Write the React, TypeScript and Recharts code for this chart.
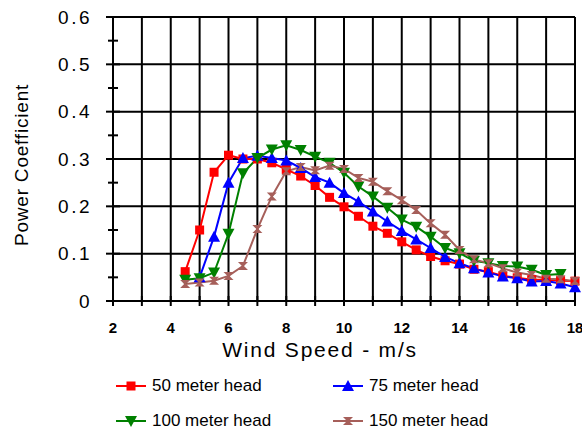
import React from "react";
import { LineChart, Line, XAxis, YAxis, CartesianGrid, Label } from "recharts";

// wind speed (m/s)
const windSpeed = [
  4.5, 5, 5.5, 6, 6.5, 7, 7.5, 8, 8.5, 9, 9.5, 10, 10.5, 11, 11.5, 12, 12.5,
  13, 13.5, 14, 14.5, 15, 15.5, 16, 16.5, 17, 17.5, 18,
];

const head50 = [
  0.062, 0.15, 0.272, 0.308, 0.3, 0.3, 0.292, 0.278, 0.264, 0.244, 0.219,
  0.199, 0.179, 0.158, 0.143, 0.125, 0.108, 0.094, 0.085, 0.078, 0.067, 0.062,
  0.053, 0.049, 0.045, 0.045, 0.043, 0.042,
];
const head75 = [
  null, 0.05, 0.136, 0.25, 0.302, 0.307, 0.302, 0.297, 0.281, 0.262, 0.25,
  0.228, 0.21, 0.189, 0.168, 0.148, 0.13, 0.112, 0.093, 0.08, 0.069, 0.06,
  0.052, 0.048, 0.041, 0.042, 0.037, 0.029,
];
const head100 = [
  0.045, 0.048, 0.06, 0.142, 0.27, 0.302, 0.32, 0.329, 0.319, 0.305, 0.292,
  0.271, 0.242, 0.221, 0.197, 0.172, 0.157, 0.136, 0.112, 0.101, 0.085, 0.08,
  0.074, 0.073, 0.066, 0.055, 0.057, null,
];
const head150 = [
  0.036, 0.039, 0.043, 0.053, 0.074, 0.152, 0.221, 0.274, 0.283, 0.276, 0.286,
  0.279, 0.26, 0.252, 0.232, 0.213, 0.192, 0.164, 0.14, 0.108, 0.088, 0.08,
  0.069, 0.06, 0.055, 0.047, 0.046, 0.042,
];

const xTicks = [2, 3, 4, 5, 6, 7, 8, 9, 10, 11, 12, 13, 14, 15, 16, 17, 18];
const xGrid = [3, 4, 5, 6, 7, 8, 9, 10, 11, 12, 13, 14, 15, 16, 17, 18];
const yTicks = [0, 0.05, 0.1, 0.15, 0.2, 0.25, 0.3, 0.35, 0.4, 0.45, 0.5, 0.55, 0.6];
const yGrid = [0.1, 0.2, 0.3, 0.4, 0.5, 0.6];

const FONT = "'Liberation Sans', Arial, sans-serif";

type Shape = "square" | "up" | "down" | "hourglass";

const series = [
  { key: "h50", name: "50 meter head", color: "#ff0000", shape: "square" as Shape, values: head50 },
  { key: "h75", name: "75 meter head", color: "#0000ff", shape: "up" as Shape, values: head75 },
  { key: "h100", name: "100 meter head", color: "#008000", shape: "down" as Shape, values: head100 },
  { key: "h150", name: "150 meter head", color: "#a65f5a", shape: "hourglass" as Shape, values: head150 },
];

const data = windSpeed.map((w, i) => {
  const row: Record<string, number | null> = { wind: w };
  series.forEach((s) => {
    row[s.key] = s.values[i];
  });
  return row;
});

function Marker({ shape, cx, cy, color }: { shape: Shape; cx: number; cy: number; color: string }) {
  if (shape === "square") {
    return <rect x={cx - 4.5} y={cy - 4.5} width={9} height={9} fill={color} />;
  }
  if (shape === "up") {
    return <polygon points={`${cx},${cy - 6} ${cx + 6},${cy + 5} ${cx - 6},${cy + 5}`} fill={color} />;
  }
  if (shape === "down") {
    return <polygon points={`${cx - 6},${cy - 5} ${cx + 6},${cy - 5} ${cx},${cy + 6}`} fill={color} />;
  }
  return (
    <polygon
      points={`${cx - 5},${cy - 4} ${cx + 5},${cy - 4} ${cx + 1},${cy} ${cx + 5},${cy + 4} ${cx - 5},${cy + 4} ${cx - 1},${cy}`}
      fill={color}
    />
  );
}

function makeDot(shape: Shape, color: string) {
  return (props: any) => {
    const { cx, cy, index } = props;
    if (cx == null || cy == null || props.value == null) return <g key={index} />;
    return <Marker key={index} shape={shape} cx={cx} cy={cy} color={color} />;
  };
}

function YTick(props: any) {
  const { x, y, payload } = props;
  const v = payload.value as number;
  const major = Math.round(v * 100) % 10 === 0;
  return (
    <g>
      <line x1={x - (major ? 7 : 5)} x2={x + (major ? 7 : 5)} y1={y} y2={y} stroke="#000" strokeWidth={2} />
      {major && (
        <text x={x - 21} y={y} textAnchor="end" dominantBaseline="central" fontFamily={FONT} fontSize={19} letterSpacing={2.5} fill="#000">
          {v === 0 ? "0" : v.toFixed(1)}
        </text>
      )}
    </g>
  );
}

function XTick(props: any) {
  const { x, y, payload } = props;
  const v = payload.value as number;
  return (
    <g>
      <line x1={x} x2={x} y1={y - 5} y2={y + 5} stroke="#000" strokeWidth={2} />
      {v % 2 === 0 && (
        <text x={x} y={y + 32} textAnchor="middle" fontFamily={FONT} fontSize={15} fontWeight="bold" fill="#000">
          {v}
        </text>
      )}
    </g>
  );
}

export default function App() {
  return (
    <div style={{ position: "absolute", left: 0, top: 0, width: 582, height: 429, background: "#fff" }}>
      <LineChart width={582} height={429} data={data} margin={{ top: 17, right: 7, left: 0, bottom: 98 }}>
        <CartesianGrid stroke="#000" strokeWidth={2} horizontalValues={yGrid} verticalValues={xGrid} />
        <XAxis
          dataKey="wind"
          type="number"
          domain={[2, 18]}
          ticks={xTicks}
          interval={0}
          height={30}
          tickSize={0}
          tickMargin={0}
          tickLine={false}
          axisLine={{ stroke: "#000", strokeWidth: 2 }}
          tick={<XTick />}
        >
          <Label
            content={() => (
              <text x={320} y={357} textAnchor="middle" fontFamily={FONT} fontSize={21} letterSpacing={1.8} fill="#000">
                Wind Speed - m/s
              </text>
            )}
          />
        </XAxis>
        <YAxis
          type="number"
          domain={[0, 0.6]}
          ticks={yTicks}
          interval={0}
          width={113}
          tickSize={0}
          tickMargin={0}
          tickLine={false}
          axisLine={{ stroke: "#000", strokeWidth: 2 }}
          tick={<YTick />}
        >
          <Label
            content={() => (
              <text
                x={21}
                y={165}
                transform="rotate(-90 21 165)"
                textAnchor="middle"
                dominantBaseline="central"
                fontFamily={FONT}
                fontSize={19}
                letterSpacing={0.8}
                fill="#000"
              >
                Power Coefficient
              </text>
            )}
          />
        </YAxis>
        {series.map((s) => (
          <Line
            key={s.key}
            dataKey={s.key}
            name={s.name}
            stroke={s.color}
            strokeWidth={2}
            dot={makeDot(s.shape, s.color)}
            activeDot={false}
            connectNulls={false}
            isAnimationActive={false}
          />
        ))}
      </LineChart>
      {series.map((s, i) => {
        const col = i % 2;
        const row = Math.floor(i / 2);
        const left = col === 0 ? 116 : 333;
        const top = row === 0 ? 386 : 421;
        return (
          <div key={s.key} style={{ position: "absolute", left, top: top - 12, height: 24, display: "flex", alignItems: "center" }}>
            <svg width={30} height={24}>
              <line x1={0} x2={30} y1={12} y2={12} stroke={s.color} strokeWidth={2} />
              <Marker shape={s.shape} cx={15} cy={12} color={s.color} />
            </svg>
            <span style={{ marginLeft: 6, fontFamily: FONT, fontSize: 17, color: "#000", whiteSpace: "nowrap" }}>{s.name}</span>
          </div>
        );
      })}
    </div>
  );
}
